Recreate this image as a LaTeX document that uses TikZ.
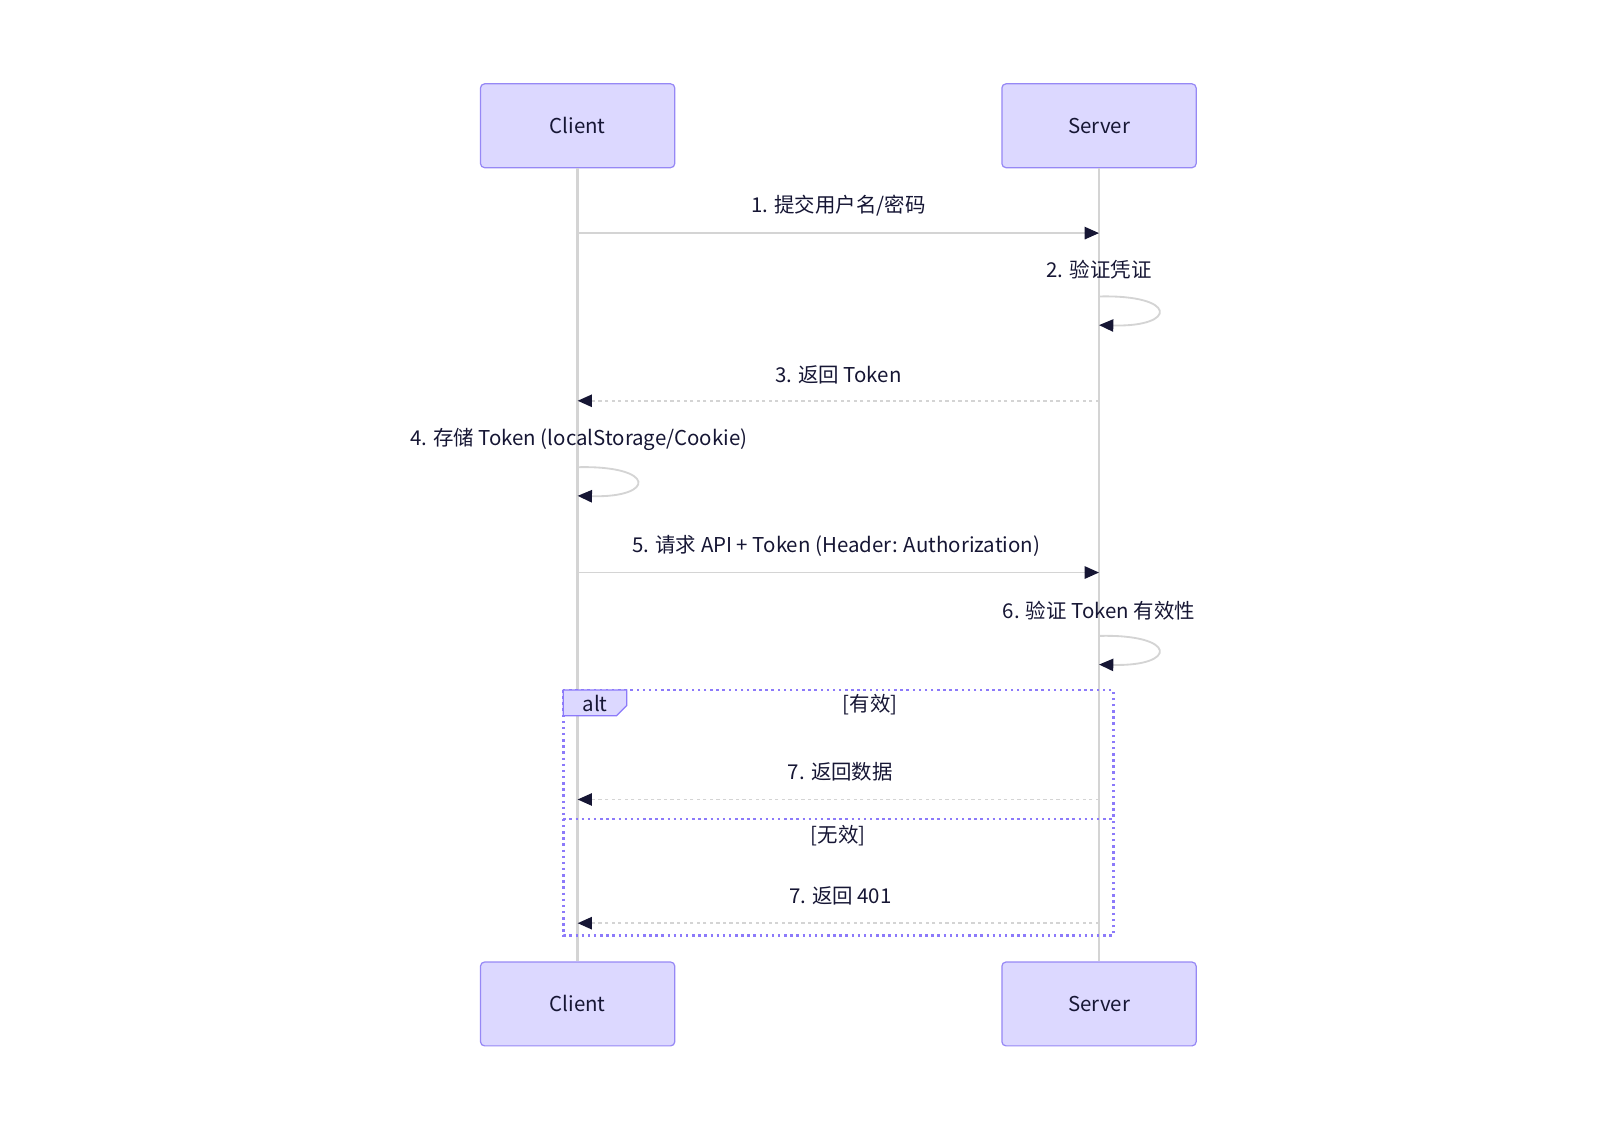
\documentclass[tikz,border=0pt]{standalone}
\usepackage{fontspec}
\setmainfont{Noto Sans CJK SC}
\usepackage{tikz}
\usetikzlibrary{arrows.meta}

\definecolor{actorfill}{RGB}{220,216,255}
\definecolor{actorline}{RGB}{150,136,245}
\definecolor{lifeline}{RGB}{212,212,212}
\definecolor{ink}{RGB}{22,22,52}
\definecolor{altline}{RGB}{140,122,250}

\tikzset{
  actor/.style={draw=actorline, fill=actorfill, rounded corners=2pt, line width=0.6pt,
    minimum width=95pt, minimum height=41pt, text=ink, font=\fontsize{10}{12}\selectfont},
  msg/.style={draw=lifeline, line width=0.9pt, -{Triangle[length=7pt,width=6pt,color=ink]}},
  reply/.style={msg, dash pattern=on 1.6pt off 1.6pt},
  msgtext/.style={text=ink, font=\fontsize{10}{12}\selectfont},
  altbox/.style={draw=altline, dash pattern=on 1.2pt off 1.8pt, line width=1.2pt},
}

\begin{document}
\begin{tikzpicture}[x=0.5pt,y=-0.5pt]
  \useasboundingbox (0,0) rectangle (1567,1105);

  \node[actor] (client) at (565,123) {Client};
  \node[actor] (server) at (1075,123) {Server};
  \node[actor] (clientb) at (565,982) {Client};
  \node[actor] (serverb) at (1075,982) {Server};

  \draw[lifeline, line width=1.4pt] (client) -- (clientb);
  \draw[lifeline, line width=1.4pt] (server) -- (serverb);

  % messages
  \coordinate (c1) at (565,228);  \coordinate (s1) at (1075,228);
  \coordinate (s2a) at (1075,290); \coordinate (s2b) at (1075,318);
  \coordinate (c3) at (565,392);  \coordinate (s3) at (1075,392);
  \coordinate (c4a) at (565,457); \coordinate (c4b) at (565,485);
  \coordinate (c5) at (565,560);  \coordinate (s5) at (1075,560);
  \coordinate (s6a) at (1075,622); \coordinate (s6b) at (1075,650);
  \coordinate (c7) at (565,782);  \coordinate (s7) at (1075,782);
  \coordinate (c8) at (565,903);  \coordinate (s8) at (1075,903);

  \node[msgtext] (m1) at (820,201) {1. 提交用户名/密码};
  \draw[msg] (c1) -- (s1);

  \node[msgtext] (m2) at (1075,264) {2. 验证凭证};
  \draw[msg] (s2a) .. controls (1152,288) and (1152,320) .. (s2b);

  \node[msgtext] (m3) at (820,367) {3. 返回 Token};
  \draw[reply] (s3) -- (c3);

  \node[msgtext] (m4) at (566,430) {4. 存储 Token (localStorage/Cookie)};
  \draw[msg] (c4a) .. controls (642,455) and (642,487) .. (c4b);

  \node[msgtext] (m5) at (818,534) {5. 请求 API + Token (Header: Authorization)};
  \draw[msg] (c5) -- (s5);

  \node[msgtext] (m6) at (1075,597) {6. 验证 Token 有效性};
  \draw[msg] (s6a) .. controls (1152,620) and (1152,652) .. (s6b);

  % alt
  \draw[altbox] (551,675) rectangle (1089,915);
  \draw[altbox] (551,801) -- (1089,801);
  \draw[draw=altline, fill=actorfill, line width=0.6pt]
    (551,675) -- (613,675) -- (613,690) -- (603,700) -- (551,700) -- cycle;
  \node[msgtext] (alt) at (582,688) {alt};
  \node[msgtext] (g1) at (851,689) {[有效]};
  \node[msgtext] (g2) at (820,817) {[无效]};

  \node[msgtext] (m7) at (822,755) {7. 返回数据};
  \draw[reply] (s7) -- (c7);

  \node[msgtext] (m8) at (822,876) {7. 返回 401};
  \draw[reply] (s8) -- (c8);
\end{tikzpicture}
\end{document}
